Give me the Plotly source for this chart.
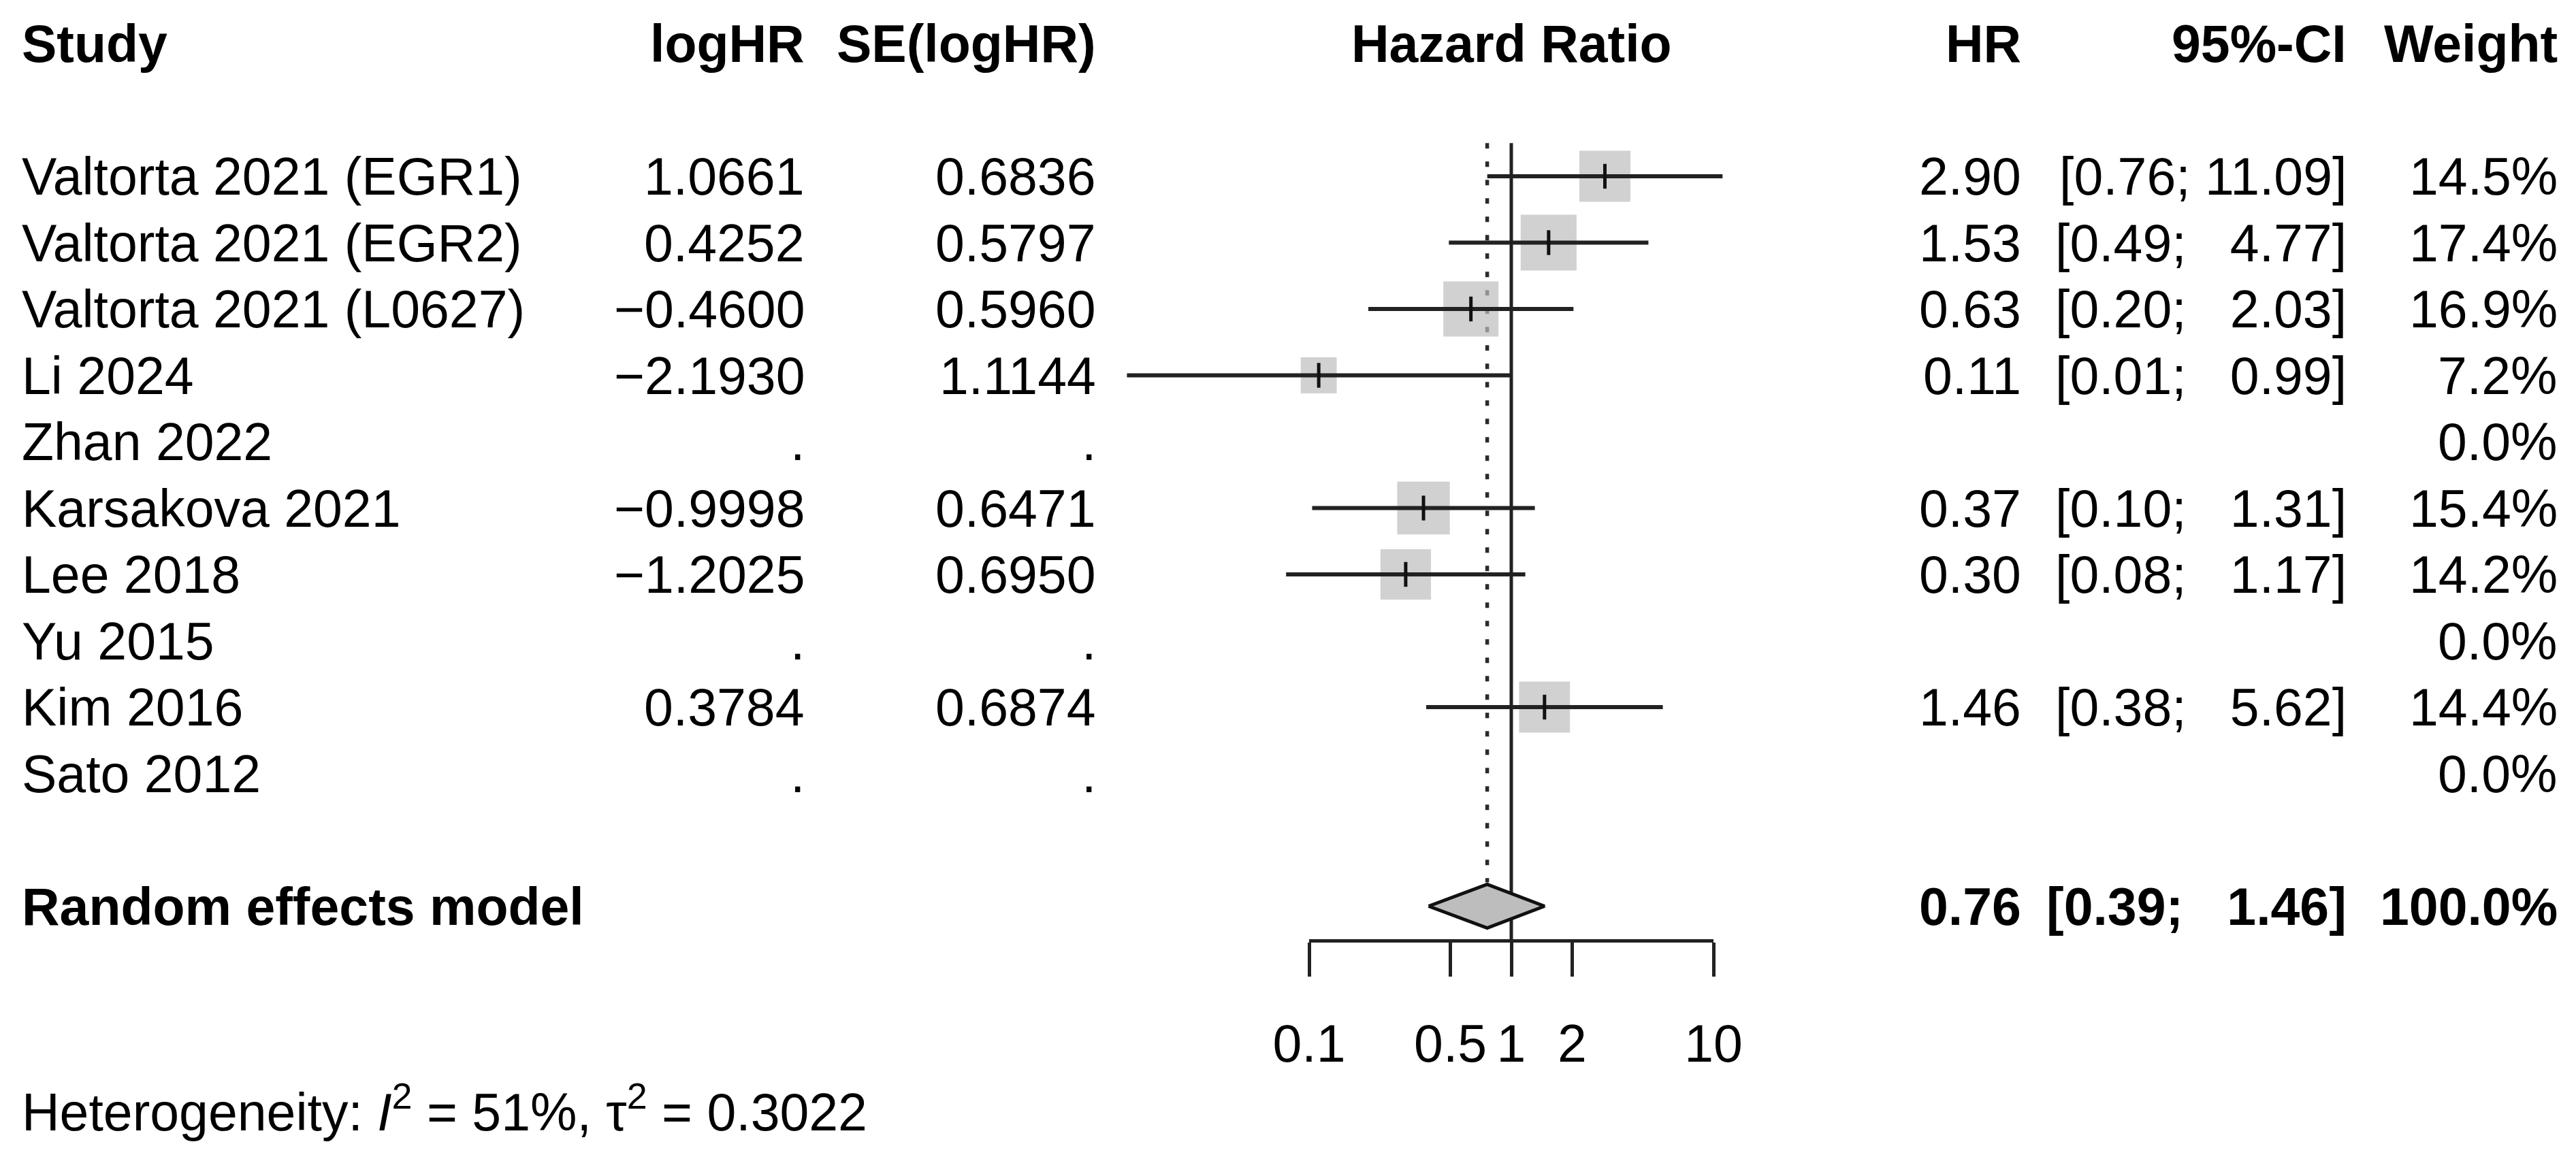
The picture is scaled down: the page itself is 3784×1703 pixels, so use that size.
import math
import plotly.graph_objects as go

# ---------------- data ----------------
studies = ["Valtorta 2021 (EGR1)", "Valtorta 2021 (EGR2)", "Valtorta 2021 (L0627)",
           "Li 2024", "Zhan 2022", "Karsakova 2021", "Lee 2018", "Yu 2015",
           "Kim 2016", "Sato 2012"]
log_hr = [1.0661, 0.4252, -0.4600, -2.1930, None, -0.9998, -1.2025, None, 0.3784, None]
se_log_hr = [0.6836, 0.5797, 0.5960, 1.1144, None, 0.6471, 0.6950, None, 0.6874, None]
weights = [14.5, 17.4, 16.9, 7.2, 0.0, 15.4, 14.2, 0.0, 14.4, 0.0]

pooled_label = "Random effects model"
pooled_hr = 0.76
pooled_lo = 0.39
pooled_hi = 1.46
pooled_weight = 100.0

heterogeneity = "Heterogeneity: <i>I</i><sup>2</sup> = 51%, τ<sup>2</sup> = 0.3022"

headers = ["Study", "logHR", "SE(logHR)", "Hazard Ratio", "HR", "95%-CI", "Weight"]
tick_vals = [0.1, 0.5, 1, 2, 10]
tick_text = ["0.1", "0.5", "1", "2", "10"]

# ---------------- layout geometry ----------------
W, H = 3784, 1703
X1 = 2220.0      # pixel of HR = 1
DEC = 297.0      # pixels per decade
Y1 = 259.0       # pixel of first study row
ROW = 97.5       # pixels per row
FONT = "Liberation Sans, Arial, sans-serif"
FS = 77
NBSP = "\u00a0"

def px(xp):
    return xp / W

col_study = px(30)
col_loghr = px(1184)
col_se = px(1612)
col_hr = px(2971)
col_ci = px(3449)
col_w = px(3759)
col_center = px(X1)

k_header = -1
k_pooled = 12
k_axis = 12.5
k_het = 15.05

def fmt_num(v, d):
    s = f"{v:.{d}f}"
    return s.replace("-", "\u2212")

def fmt_ci(lo, hi):
    los = f"{lo:.2f}"
    his = f"{hi:.2f}"
    pad = NBSP * 2 * (5 - len(his))
    return f"[{los};{NBSP}{pad}{his}]"

fig = go.Figure()

rows = list(range(1, len(studies) + 1))

# reference lines
fig.add_trace(go.Scatter(x=[1, 1], y=[0.5, k_axis], mode="lines",
                         line=dict(color="#222222", width=5), hoverinfo="skip"))
fig.add_trace(go.Scatter(x=[pooled_hr, pooled_hr], y=[0.5, k_pooled - 0.36], mode="lines",
                         line=dict(color="#2b2b2b", width=5.5, dash="8px,19px"), hoverinfo="skip"))

# squares and confidence intervals
sq_x, sq_y, sq_s = [], [], []
ci_x, ci_y = [], []
for k, lh, se, w in zip(rows, log_hr, se_log_hr, weights):
    if lh is None:
        continue
    sq_x.append(math.exp(lh))
    sq_y.append(k)
    sq_s.append(19.7 * math.sqrt(w))
    ci_x += [math.exp(lh - 1.96 * se), math.exp(lh + 1.96 * se), None]
    ci_y += [k, k, None]

fig.add_trace(go.Scatter(x=sq_x, y=sq_y, mode="markers",
                         marker=dict(symbol="square", size=sq_s, color="#BDBDBD",
                                     line=dict(width=0)), hoverinfo="skip"))
fig.add_trace(go.Scatter(x=ci_x, y=ci_y, mode="lines",
                         line=dict(color="#222222", width=6), hoverinfo="skip"))
fig.add_trace(go.Scatter(x=sq_x, y=sq_y, mode="markers",
                         marker=dict(symbol="line-ns", size=26,
                                     line=dict(width=5, color="#111111")), hoverinfo="skip"))

# diamond
dh = 0.33
fig.add_trace(go.Scatter(x=[pooled_lo, pooled_hr, pooled_hi, pooled_hr, pooled_lo],
                         y=[k_pooled, k_pooled - dh, k_pooled, k_pooled + dh, k_pooled],
                         mode="lines", fill="toself", fillcolor="#BDBDBD",
                         line=dict(color="#111111", width=5), hoverinfo="skip"))

# invisible trace binding the visible HR axis (x2 / y2)
fig.add_trace(go.Scatter(x=[1], y=[0.5], xaxis="x2", yaxis="y2", mode="markers",
                         marker=dict(size=1, opacity=0), hoverinfo="skip"))

ann = []

def add_text(xp, k, text, anchor, bold=False):
    if bold:
        text = f"<b>{text}</b>"
    ann.append(dict(x=xp, y=k, xref="paper", yref="y", text=text, showarrow=False,
                    xanchor=anchor, yanchor="middle",
                    font=dict(family=FONT, size=FS, color="black")))

# header
add_text(col_study, k_header, headers[0], "left", True)
add_text(col_loghr, k_header, headers[1], "right", True)
add_text(col_se, k_header, headers[2], "right", True)
add_text(col_center, k_header, headers[3], "center", True)
add_text(col_hr, k_header, headers[4], "right", True)
add_text(col_ci, k_header, headers[5], "right", True)
add_text(col_w, k_header, headers[6], "right", True)

for k, name, lh, se, w in zip(rows, studies, log_hr, se_log_hr, weights):
    add_text(col_study, k, name, "left")
    add_text(col_loghr, k, "." if lh is None else fmt_num(lh, 4), "right")
    add_text(col_se, k, "." if se is None else fmt_num(se, 4), "right")
    if lh is not None:
        add_text(col_hr, k, f"{math.exp(lh):.2f}", "right")
        add_text(col_ci, k, fmt_ci(math.exp(lh - 1.96 * se), math.exp(lh + 1.96 * se)), "right")
    add_text(col_w, k, f"{w:.1f}%", "right")

add_text(col_study, k_pooled, pooled_label, "left", True)
add_text(col_hr, k_pooled, f"{pooled_hr:.2f}", "right", True)
add_text(col_ci, k_pooled, fmt_ci(pooled_lo, pooled_hi), "right", True)
add_text(col_w, k_pooled, f"{pooled_weight:.1f}%", "right", True)

add_text(col_study, k_het, heterogeneity, "left")

top_k = 1 - Y1 / ROW
bot_k = 1 + (H - Y1) / ROW
axis_pos = 1 - (Y1 + (k_axis - 1) * ROW) / H

fig.update_layout(
    template="none",
    width=W, height=H,
    margin=dict(l=0, r=0, t=0, b=0, pad=0),
    paper_bgcolor="white", plot_bgcolor="rgba(0,0,0,0)",
    showlegend=False,
    annotations=ann,
    xaxis=dict(type="log", domain=[0, 1], range=[-X1 / DEC, (W - X1) / DEC],
               visible=False, fixedrange=True, automargin=False),
    yaxis=dict(range=[bot_k, top_k], domain=[0, 1], visible=False, fixedrange=True,
               automargin=False),
    xaxis2=dict(type="log", domain=[(X1 - DEC) / W, (X1 + DEC) / W], range=[-1, 1],
                anchor="y2", side="bottom", automargin=False,
                showgrid=False, zeroline=False,
                showline=True, linewidth=5, linecolor="#222222",
                ticks="outside", ticklen=50, tickwidth=5, tickcolor="#222222",
                tickvals=tick_vals, ticktext=tick_text, tickangle=0,
                ticklabelstandoff=32,
                tickfont=dict(family=FONT, size=FS, color="black"), fixedrange=True),
    yaxis2=dict(domain=[axis_pos, axis_pos + 0.01], range=[0, 1], visible=False,
                anchor="x2", fixedrange=True, automargin=False),
)

fig.write_html("out.html", config={"displayModeBar": False},
               post_script="document.body.style.margin='0';document.body.style.overflow='hidden';")
